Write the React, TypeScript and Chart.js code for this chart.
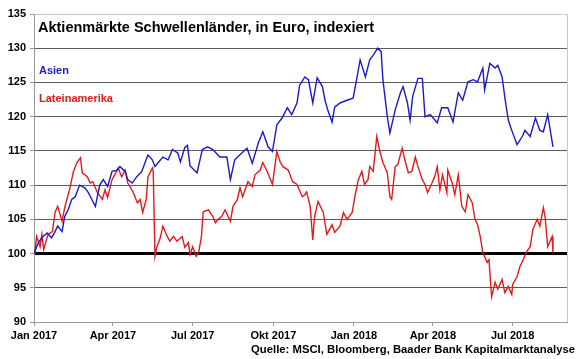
import React, { useEffect, useRef } from "react";
import { Chart, registerables } from "chart.js";

Chart.register(...registerables);

const title = "Aktienmärkte Schwellenländer, in Euro, indexiert";
const source = "Quelle: MSCI, Bloomberg, Baader Bank Kapitalmarktanalyse";
const seriesNames = ["Asien", "Lateinamerika"];

// x values: days since 1 Jan 2017
const tickDays = [0, 90, 181, 273, 365, 455, 546];
const tickLabels = ["Jan 2017", "Apr 2017", "Jul 2017", "Okt 2017", "Jan 2018", "Apr 2018", "Jul 2018"];
const yTicks = [90, 95, 100, 105, 110, 115, 120, 125, 130, 135];

const asienDays = [0, 5, 9, 15, 20, 24, 27, 32, 35, 39, 43, 47, 52, 58, 62, 66, 70, 75, 79, 84, 89, 95, 98, 104, 107, 112, 117, 123, 127, 130, 135, 138, 141, 147, 153, 158, 164, 167, 172, 175, 178, 186, 192, 198, 204, 212, 220, 224, 229, 237, 243, 249, 256, 261, 267, 272, 277, 283, 289, 294, 300, 303, 309, 313, 318, 323, 329, 332, 335, 340, 343, 349, 357, 364, 368, 372, 378, 383, 387, 392, 396, 398, 403, 406, 412, 418, 421, 426, 429, 432, 438, 443, 446, 452, 460, 465, 472, 478, 484, 489, 495, 501, 506, 512, 514, 520, 526, 529, 534, 537, 541, 545, 551, 557, 560, 566, 572, 577, 581, 586, 592];
const asienValues = [100, 101.6, 102.3, 103, 102.3, 103.2, 104, 103.2, 105.4, 106.4, 107.9, 108.3, 110, 109.6, 108.9, 107.9, 106.9, 110, 110.8, 109.8, 112, 112.2, 112.7, 112, 110.8, 110.3, 111.2, 112, 113.4, 114.4, 113.7, 112.7, 113.2, 114.1, 113.7, 115.2, 114.7, 113.4, 115.5, 115.8, 112.8, 111.8, 115.2, 115.6, 115.2, 114.1, 114.1, 110.8, 113.7, 114.7, 115.4, 113.2, 116.2, 117.8, 115.6, 114.9, 118.8, 119.8, 121.3, 120.3, 122, 124.6, 125.8, 125.4, 122, 125.7, 124.4, 122.4, 121, 119.2, 121.4, 122, 122.4, 122.7, 125.4, 128.3, 125.8, 128.3, 129, 130, 129.5, 125.4, 120, 117.6, 121, 123.5, 124.4, 122, 119.5, 123, 125.6, 125.6, 120, 120.3, 119.1, 121.3, 121.3, 119.2, 123.5, 122.4, 125.1, 125.4, 125.1, 127.1, 123.9, 127.8, 127.1, 127.5, 125.8, 122.9, 119.5, 118, 115.9, 117.1, 118, 117.1, 119.8, 118, 117.8, 120.3, 115.6];

const latamDays = [0, 1, 3, 7, 9, 11, 16, 21, 24, 27, 32, 35, 41, 45, 49, 53, 55, 61, 64, 67, 72, 78, 81, 84, 89, 92, 96, 100, 104, 107, 113, 118, 121, 124, 128, 130, 135, 136, 138, 140, 144, 147, 152, 155, 159, 163, 169, 172, 176, 178, 181, 185, 188, 191, 193, 199, 204, 207, 210, 214, 218, 224, 227, 232, 235, 238, 244, 249, 252, 258, 261, 266, 272, 277, 281, 284, 290, 295, 300, 306, 309, 311, 315, 318, 320, 324, 330, 334, 340, 343, 349, 353, 357, 363, 366, 370, 374, 377, 381, 383, 387, 391, 394, 398, 403, 406, 408, 412, 415, 420, 423, 427, 431, 435, 438, 443, 446, 449, 454, 457, 460, 463, 466, 471, 472, 477, 480, 484, 488, 492, 495, 500, 503, 506, 509, 512, 517, 519, 522, 526, 529, 534, 537, 541, 545, 546, 551, 554, 558, 562, 566, 569, 574, 577, 581, 583, 586, 591, 592];
const latamValues = [100, 100.1, 102.5, 101, 102.8, 100.6, 102.8, 103.2, 106, 106.9, 104.7, 106.7, 109.6, 112, 113.3, 114, 111.8, 111.2, 110.3, 110.5, 109, 107.9, 109.3, 108.2, 110.8, 111.5, 112.5, 111.2, 112.2, 110.3, 109, 107.4, 107.9, 106, 107.9, 111.2, 112.5, 112, 99.6, 100.9, 102.3, 104, 102.5, 101.8, 102.5, 101.8, 102.5, 100.9, 101.6, 99.9, 101, 99.6, 100.3, 102.5, 106.1, 106.4, 105.4, 104.5, 105, 105.4, 106.4, 104.7, 106.9, 107.9, 109.6, 108.3, 110.5, 109.8, 111.5, 112.2, 113.3, 112, 110.1, 114.9, 113.3, 112.7, 112.2, 110.5, 110.1, 108.3, 108.6, 109, 106.9, 102, 105.4, 107.6, 106, 102.8, 104.2, 103.1, 104, 106, 105, 106, 108.3, 110.8, 112, 110.1, 110.8, 112.7, 112, 117.1, 115.2, 113.3, 111.8, 108.3, 107.9, 112.7, 113, 115.4, 113.7, 111.8, 112, 114.1, 112.7, 110.8, 110.1, 108.9, 110.3, 111.2, 112.7, 109.3, 111.5, 108.9, 112.2, 110.3, 108.6, 111.5, 106.9, 106.1, 108.6, 107.4, 105, 104.2, 102.5, 100.1, 98.7, 99.1, 93.7, 95.8, 94.8, 96.2, 94.3, 95.2, 94, 95.5, 96.6, 98, 99.1, 100.3, 101, 103.5, 105, 104, 106.7, 105.4, 101, 102.5, 100.1];

const FONT = '"Liberation Sans", Arial, sans-serif';
const BLUE = "#1a1acc";
const RED = "#e3191c";

const textPlugin = {
  id: "texts",
  afterDraw(chart: any) {
    const ctx = chart.ctx;
    const { top, right, bottom } = chart.chartArea;
    ctx.save();
    ctx.strokeStyle = "#c8c8c8";
    ctx.lineWidth = 1;
    ctx.beginPath();
    ctx.moveTo(right + 0.5, top);
    ctx.lineTo(right + 0.5, bottom);
    ctx.stroke();
    ctx.textBaseline = "alphabetic";
    ctx.textAlign = "left";
    ctx.fillStyle = "#000";
    ctx.font = `bold 14.5px ${FONT}`;
    ctx.fillText(title, 38, 32);
    ctx.font = `bold 11px ${FONT}`;
    ctx.fillStyle = BLUE;
    ctx.fillText(seriesNames[0], 39, 74);
    ctx.fillStyle = RED;
    ctx.fillText(seriesNames[1], 39, 102);
    ctx.fillStyle = "#000";
    ctx.textAlign = "right";
    ctx.font = `bold 11.3px ${FONT}`;
    ctx.fillText(source, 575, 353);
    ctx.restore();
  },
};

export default function App() {
  const ref = useRef<HTMLCanvasElement | null>(null);
  useEffect(() => {
    if (!ref.current) return;
    const chart = new Chart(ref.current, {
      type: "line",
      data: {
        datasets: [
          {
            label: seriesNames[0],
            data: asienDays.map((d, i) => ({ x: d, y: asienValues[i] })),
            borderColor: BLUE,
            borderWidth: 1.4,
            pointRadius: 0,
            tension: 0,
          },
          {
            label: seriesNames[1],
            data: latamDays.map((d, i) => ({ x: d, y: latamValues[i] })),
            borderColor: RED,
            borderWidth: 1.4,
            pointRadius: 0,
            tension: 0,
          },
        ],
      },
      options: {
        animation: false,
        responsive: false,
        layout: { padding: { top: 14, right: 13, left: 0, bottom: 0 } },
        plugins: { legend: { display: false }, tooltip: { enabled: false } },
        scales: {
          x: {
            type: "linear",
            min: 0,
            max: 608,
            afterFit: (s: any) => { s.height = 37; },
            afterBuildTicks: (s: any) => { s.ticks = tickDays.map((v) => ({ value: v })); },
            grid: { display: true, drawOnChartArea: false, drawTicks: true, tickLength: 4, tickColor: "#999" },
            border: { color: "#999", width: 1 },
            ticks: {
              autoSkip: false,
              maxRotation: 0,
              padding: 3,
              color: "#000",
              font: { family: FONT, size: 11, weight: "bold" },
              callback: (_v: any, i: number) => tickLabels[i],
            },
          },
          y: {
            min: 90,
            max: 135,
            afterFit: (s: any) => { s.width = 34; },
            afterBuildTicks: (s: any) => { s.ticks = yTicks.map((v) => ({ value: v })); },
            grid: {
              color: (c: any) => {
                const v = c.tick && c.tick.value;
                if (v === 135) return "#c8c8c8";
                if (v === 100) return "#000";
                if (v === 90) return "#999";
                return "#5a5a5a";
              },
              lineWidth: (c: any) => (c.tick && c.tick.value === 100 ? 3 : 1),
              tickColor: "#999",
              tickWidth: 1,
              tickLength: 4,
            },
            border: { color: "#999", width: 1 },
            ticks: {
              padding: 4,
              color: "#000",
              font: { family: FONT, size: 11, weight: "bold" },
            },
          },
        },
      },
      plugins: [textPlugin],
    });
    return () => chart.destroy();
  }, []);
  return (
    <div style={{ position: "fixed", left: 0, top: 0, width: 580, height: 359, background: "#fff" }}>
      <canvas ref={ref} width={580} height={359} style={{ display: "block" }} />
    </div>
  );
}
